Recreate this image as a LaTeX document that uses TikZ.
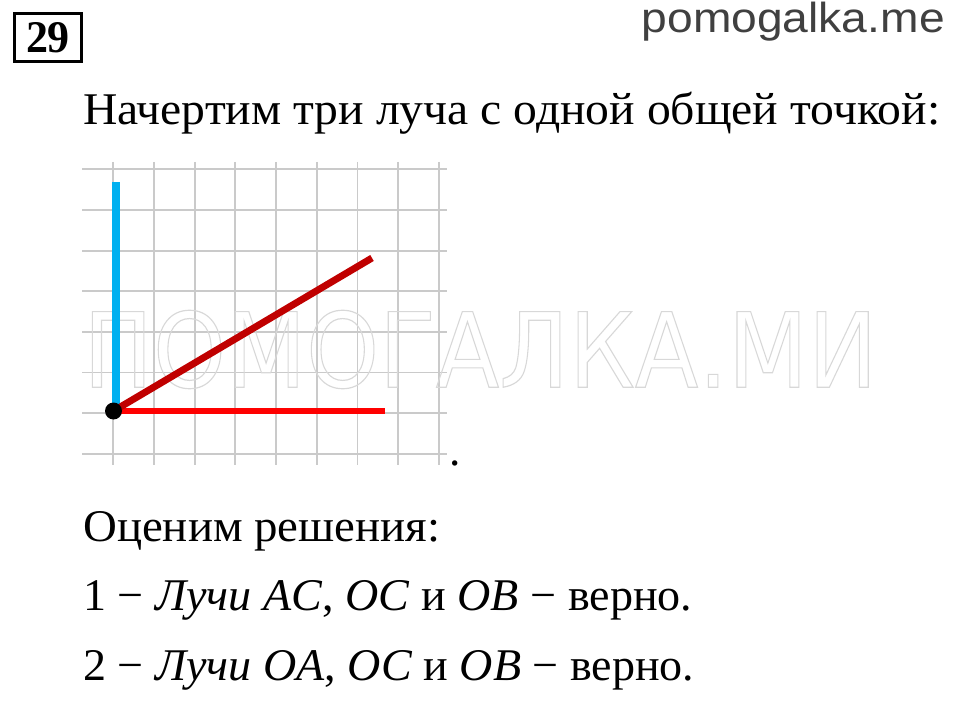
\documentclass[tikz,border=0pt]{standalone}
\usepackage{fontspec}
\usepackage{graphicx}
\setmainfont{Liberation Serif}
\newfontfamily\sitefont{Liberation Sans}
\newfontfamily\wmfont{DejaVu Sans}
\definecolor{gridgray}{HTML}{CACACA}
\definecolor{raycyan}{HTML}{00B0F0}
\definecolor{rayred}{HTML}{FF0000}
\definecolor{raydark}{HTML}{C00000}
\definecolor{sitegray}{HTML}{404040}
\definecolor{wmgray}{HTML}{D8D8D8}
\begin{document}
\begin{tikzpicture}[x=0.75pt,y=-0.75pt,
  txt/.style={anchor=base west,inner sep=0pt,font=\fontsize{34pt}{40pt}\selectfont},
  gridline/.style={draw=gridgray,line width=1.4pt},
  cyanray/.style={draw=raycyan,line width=6pt},
  redray/.style={draw=rayred,line width=5pt},
  darkray/.style={draw=raydark,line width=5.2pt}]
\fill[white] (0,0) rectangle (960,702);
\useasboundingbox (0,0) rectangle (960,702);
% header
\node[draw=black,line width=2.25pt,minimum width=50.25pt,minimum height=36pt,inner sep=0pt] (num) at (48,37.5)
  {\resizebox{33pt}{\height}{\fontsize{34pt}{34pt}\selectfont\bfseries 29}};
\node[anchor=base east,inner sep=0pt,text=sitegray] (site) at (945,33)
  {\resizebox{227.25pt}{\height}{\sitefont\fontsize{31.5pt}{32pt}\selectfont pomogalka.me}};
\node[txt] (l1) at (83,125) {\resizebox{642.75pt}{\height}{Начертим три луча с одной общей точкой:}};
% grid
\foreach \i in {0,...,8} \draw[gridline] ({113.3+40.7*\i},162) -- ({113.3+40.7*\i},465);
\foreach \j in {0,...,7} \draw[gridline] (82,{169.3+40.65*\j}) -- (447,{169.3+40.65*\j});
% watermark
\node[anchor=south west,inner sep=0pt,text=wmgray] (wm) at (83,389)
  {\resizebox{595.5pt}{57.75pt}{\special{pdf:literal direct 1 Tr 0.9 w}\wmfont\fontsize{79pt}{80pt}\selectfont ПОМОГАЛКА.МИ\special{pdf:literal direct 0 Tr}}};
% rays
\coordinate (O) at (113.5,411);
\coordinate (Bbase) at (116,411);
\coordinate (Btop) at (116,182);
\coordinate (Cend) at (385,411);
\coordinate (Dend) at (372,258);
\draw[cyanray] (Bbase) -- (Btop);
\draw[redray] (O) -- (Cend);
\draw[darkray] (O) -- (Dend);
\node[circle,fill=black,minimum size=12.75pt,inner sep=0pt] (dot) at (O) {};
\node[txt] (per) at (449,465) {.};
% answers
\node[txt] (l2) at (83,541) {\resizebox{267.75pt}{\height}{Оценим решения:}};
\node[txt] (l3) at (83,610) {\resizebox{456.75pt}{\height}{1 − \textit{Лучи} \textit{AC}, \textit{OC} и \textit{OB} − верно.}};
\node[txt] (l4) at (83,680) {\resizebox{458.25pt}{\height}{2 − \textit{Лучи} \textit{OA}, \textit{OC} и \textit{OB} − верно.}};
\end{tikzpicture}
\end{document}
